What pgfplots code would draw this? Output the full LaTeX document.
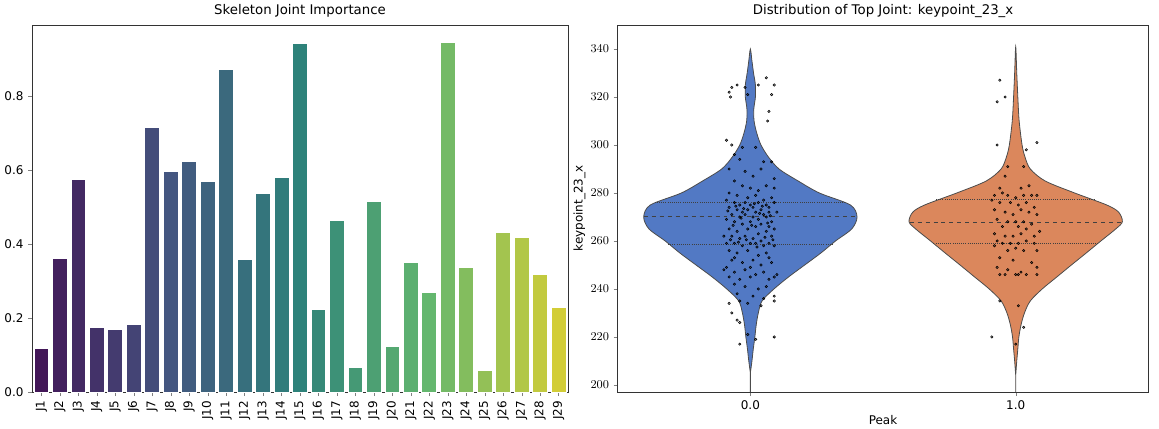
\documentclass[border=0pt]{standalone}
\usepackage{pgfplots}
\pgfplotsset{compat=1.18}
\usepackage{fontspec}
\setmainfont{DejaVu Sans}
\definecolor{vblue}{RGB}{82,121,196}
\definecolor{vorange}{RGB}{219,135,92}
\pgfplotsset{colormap={myvir}{rgb255=(67,23,88) rgb255=(68,86,128) rgb255=(46,130,122) rgb255=(100,183,110) rgb255=(210,205,55)}}
\newcommand\jbar[2]{\addplot[ybar, bar width=0.8, bar shift=0pt, color of colormap={#1*35.714 of myvir}, fill=., draw=white, line width=0.6pt] coordinates {(#1,#2)};}
\begin{document}
\begin{tikzpicture}[font=\fontsize{9}{10}\selectfont]
\path (0,0) rectangle (869pt,318.75pt);
\begin{axis}[at={(21.75pt,26.25pt)}, anchor=south west, scale only axis, width=402.75pt, height=276pt,
  xmin=-0.5, xmax=28.5, ymin=0, ymax=0.993,
  xtick={0,...,28}, xticklabels={J1,J2,J3,J4,J5,J6,J7,J8,J9,J10,J11,J12,J13,J14,J15,J16,J17,J18,J19,J20,J21,J22,J23,J24,J25,J26,J27,J28,J29},
  xticklabel style={rotate=90, anchor=east},
  ytick={0,0.2,0.4,0.6,0.8}, yticklabels={0.0,0.2,0.4,0.6,0.8},
  tick align=outside, tick pos=left, major tick length=3pt,
  title={Skeleton Joint Importance}, title style={yshift=-4pt, font=\fontsize{10}{12}\selectfont},
  axis line style={draw=black!80}]
\jbar{0}{0.119}\jbar{1}{0.363}\jbar{2}{0.575}\jbar{3}{0.174}\jbar{4}{0.170}
\jbar{5}{0.182}\jbar{6}{0.717}\jbar{7}{0.598}\jbar{8}{0.623}\jbar{9}{0.570}
\jbar{10}{0.872}\jbar{11}{0.360}\jbar{12}{0.538}\jbar{13}{0.581}\jbar{14}{0.943}
\jbar{15}{0.225}\jbar{16}{0.464}\jbar{17}{0.068}\jbar{18}{0.515}\jbar{19}{0.124}
\jbar{20}{0.352}\jbar{21}{0.270}\jbar{22}{0.946}\jbar{23}{0.338}\jbar{24}{0.060}
\jbar{25}{0.431}\jbar{26}{0.418}\jbar{27}{0.319}\jbar{28}{0.229}
\end{axis}
\begin{axis}[at={(462pt,26.25pt)}, anchor=south west, scale only axis, width=399pt, height=276pt,
  xmin=-0.5, xmax=1.5, ymin=197, ymax=350,
  xtick={0,1}, xticklabels={0.0,1.0}, ytick={200,220,...,340},
  tick align=outside, tick pos=left, major tick length=3pt,
  xlabel={Peak}, ylabel={keypoint\_23\_x},
  xlabel style={yshift=3pt}, ylabel style={yshift=-3pt},
  title={Distribution of Top Joint: keypoint\_23\_x}, title style={yshift=-4pt, font=\fontsize{10}{12}\selectfont},
  axis line style={draw=black!80}]
\addplot[fill=vblue, draw=black!70, line width=0.6pt, smooth] coordinates {
(0,205)(0.006,210)(0.011,215)(0.017,220)(0.022,225)(0.03,230)(0.044,235)(0.089,240)(0.144,245)(0.205,250)(0.266,255)(0.321,260)(0.382,265)(0.402,270)(0.377,275)(0.26,280)(0.18,285)(0.108,290)(0.068,295)(0.04,300)(0.024,305)(0.014,310)(0.013,315)(0.019,320)(0.019,325)(0.012,330)(0.006,335)(0,340)
(-0.006,335)(-0.012,330)(-0.019,325)(-0.019,320)(-0.013,315)(-0.014,310)(-0.024,305)(-0.04,300)(-0.068,295)(-0.108,290)(-0.18,285)(-0.26,280)(-0.377,275)(-0.402,270)(-0.382,265)(-0.321,260)(-0.266,255)(-0.205,250)(-0.144,245)(-0.089,240)(-0.044,235)(-0.03,230)(-0.022,225)(-0.017,220)(-0.011,215)(-0.006,210)(0,205)} \closedcycle;
\addplot[fill=vorange, draw=black!70, line width=0.6pt, smooth] coordinates {
(1,204)(1.004,210)(1.008,215)(1.012,220)(1.02,225)(1.033,230)(1.055,235)(1.1,240)(1.155,245)(1.21,250)(1.266,255)(1.321,260)(1.377,265)(1.402,268)(1.388,272)(1.343,275)(1.222,280)(1.111,285)(1.055,290)(1.035,295)(1.024,300)(1.013,310)(1.008,320)(1.004,330)(1,341)
(0.996,330)(0.992,320)(0.987,310)(0.976,300)(0.965,295)(0.945,290)(0.889,285)(0.778,280)(0.657,275)(0.612,272)(0.598,268)(0.623,265)(0.679,260)(0.734,255)(0.79,250)(0.845,245)(0.9,240)(0.945,235)(0.967,230)(0.98,225)(0.988,220)(0.992,215)(0.996,210)(1,204)} \closedcycle;
\addplot[black!75, densely dotted, line width=0.6pt] coordinates {(-0.31,258.5)(0.31,258.5)};
\addplot[black!75, dashed, line width=0.7pt] coordinates {(-0.402,270)(0.402,270)};
\addplot[black!75, densely dotted, line width=0.6pt] coordinates {(-0.36,276)(0.36,276)};
\addplot[black!75, densely dotted, line width=0.6pt] coordinates {(0.69,259)(1.31,259)};
\addplot[black!75, dashed, line width=0.7pt] coordinates {(0.6,267.5)(1.4,267.5)};
\addplot[black!75, densely dotted, line width=0.6pt] coordinates {(0.7,277.5)(1.3,277.5)};
\addplot[only marks, mark=*, mark size=0.9pt, mark options={draw=none, fill=black, fill opacity=0.3}] coordinates {
(-0.08,322)(-0.07,324)(-0.05,325)(-0.02,324)(-0.01,321)(0.03,325)(0.06,328)(0.08,321)(0.09,325)(-0.075,320)(0.07,314)(0.065,310)
(-0.09,302)(-0.07,300)(-0.03,299)(-0.06,296)(-0.04,294)(0.02,299)(0.05,293)(0.08,293)(-0.08,290)(-0.02,289)(0.01,287)(0.04,290)(0.09,286)
(-0.06,285)(-0.03,283)(0.0,282)(0.03,281)(0.06,283)(0.09,282)(-0.08,280)(-0.05,279)(-0.01,278)(0.02,279)(0.05,277)(0.08,278)
(-0.09,277)(-0.06,276)(-0.04,275)(-0.02,276)(0.0,275)(0.01,274)(0.03,276)(0.04,273)(0.06,275)(0.07,274)(0.09,276)
(-0.08,274)(-0.05,273)(-0.03,272)(-0.01,273)(0.02,272)(0.05,271)(0.07,272)(-0.07,271)(-0.04,270)(-0.02,271)(0.01,270)(0.03,269)(0.06,270)(0.08,268)
(-0.09,269)(-0.06,268)(-0.03,267)(0.0,268)(0.02,266)(0.04,267)(0.07,266)(-0.08,265)(-0.05,264)(-0.01,265)(0.03,263)(0.06,264)(0.09,265)
(-0.07,262)(-0.04,261)(-0.02,262)(0.01,261)(0.04,260)(0.08,262)(-0.09,259)(-0.06,259)(-0.03,258)(0.0,259)(0.02,259)(0.05,258)(0.07,259)(0.09,258)
(-0.08,256)(-0.05,255)(-0.01,256)(0.03,254)(0.06,255)(-0.07,252)(-0.03,251)(0.01,252)(0.04,250)(0.08,251)(-0.09,249)(-0.06,247)(-0.02,248)(0.02,246)(0.05,247)(0.09,245)
(-0.08,245)(-0.04,244)(0.0,245)(0.07,244)(-0.06,242)(-0.02,241)(0.03,240)(0.06,241)(-0.05,238)(0.01,237)(0.05,236)(0.09,237)(-0.04,235)(-0.01,234)(0.04,233)(0.09,235)
(-0.08,234)(-0.07,230)(-0.05,227)(-0.04,226)(-0.01,221)(0.02,219)(-0.04,217)(0.09,220)(-0.1,248)(0.1,246)(-0.1,262)(0.1,272)
(-0.085,272.5)(-0.055,274.5)(-0.025,273.5)(0.015,275.5)(0.045,274.5)(0.075,270.5)(-0.065,266.5)(-0.035,269.5)(0.005,266.5)(0.035,271.5)(0.065,267.5)(-0.075,260.5)(-0.045,259.5)(-0.015,260.5)(0.025,257.5)(0.055,261.5)(0.085,260.5)(-0.06,253)(0.0,249)(0.07,253)}; 
\addplot[only marks, mark=*, mark size=0.9pt, mark options={draw=none, fill=black, fill opacity=0.3}] coordinates {
(0.94,327)(0.96,320)(0.93,318)(0.93,300)(1.08,301)(1.04,298)(1.03,291)(0.97,291)(0.96,287)(0.94,282)(1.05,283)(1.02,282)
(0.92,279)(0.95,280)(0.97,279)(1.0,278)(1.03,279)(1.06,279)(1.08,279)(0.91,277)(0.94,276)(0.98,276)(1.01,275)(1.04,276)(1.07,274)
(0.92,273)(0.96,272)(0.99,271)(1.02,273)(1.05,272)(1.08,271)(0.93,269)(0.97,268)(1.0,268)(1.03,268)(1.06,267)(0.95,266)(1.01,266)(1.04,265)(1.09,264)
(0.92,263)(0.96,262)(0.99,262)(1.02,263)(1.07,262)(0.93,260)(0.95,259)(0.98,259)(1.01,259)(1.04,260)(1.07,259)(0.92,258)(0.97,256)(1.0,257)(1.03,256)(1.08,256)
(0.94,253)(0.99,252)(1.06,251)(0.93,249)(0.97,248)(1.02,247)(1.08,249)(0.94,246)(0.96,246)(1.0,246)(1.01,246)(1.04,246)(1.08,246)
(0.94,235)(1.01,233)(1.03,224)(0.91,220)(1.0,217)};
\end{axis}
\end{tikzpicture}
\end{document}
